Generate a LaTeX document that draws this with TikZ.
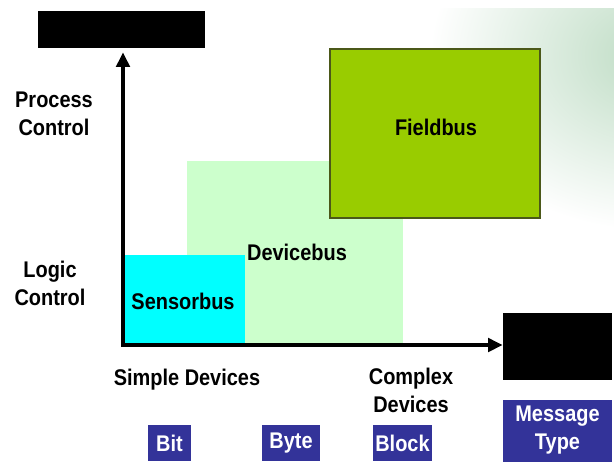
\documentclass[tikz,border=0pt]{standalone}
\usepackage{fontspec}
\setmainfont{Liberation Sans}[FakeStretch=0.88]
\usetikzlibrary{arrows.meta}
\definecolor{glow}{RGB}{190,220,196}
\definecolor{sensorcyan}{HTML}{00FFFF}
\definecolor{devicegreen}{HTML}{CCFFCC}
\definecolor{fieldgreen}{HTML}{99CC00}
\definecolor{fieldedge}{RGB}{75,88,25}
\definecolor{typeblue}{HTML}{333399}
\newcommand{\slidefont}{\bfseries\fontsize{17}{21}\selectfont}
\tikzstyle{axisline}=[line width=3.2pt, line cap=rect, -{Triangle[length=11pt,width=10pt]}]
\tikzstyle{blackbox}=[fill=black, inner sep=0pt]
\tikzstyle{typebox}=[fill=typeblue, text=white, inner sep=0pt, align=center, font=\slidefont]
\tikzstyle{caption}=[align=center, inner sep=0pt, font=\slidefont]

\begin{document}
\begin{tikzpicture}[x=0.75pt, y=-0.75pt]
    \useasboundingbox (0,0) rectangle (614,462);
    % soft glow in the upper right corner
    \begin{scope}
        \clip (0,8) rectangle (614,462);
        \shade[inner color=glow, outer color=white] (650,55) ellipse (220 and 175);
    \end{scope}

    % bus areas
    \fill[devicegreen] (187,161) rectangle (403,344);
    \draw[fieldedge, fill=fieldgreen, line width=0.8pt] (330,49) rectangle (540,218);
    \fill[sensorcyan] (122,255) rectangle (245,344);
    \node[caption] (devicebus) at (297,252) {Devicebus};
    \node[caption] (fieldbus) at (436,127) {Fieldbus};
    \node[caption] (sensorbus) at (183,301) {Sensorbus};

    % axes
    \node[blackbox, minimum width=125.25pt, minimum height=27.75pt] (ybox) at (121.5,29.5) {};
    \node[blackbox, minimum width=81.75pt, minimum height=50.25pt] (xbox) at (557.5,346.5) {};
    \coordinate (origin) at (123,345);
    \draw[axisline] (origin) -- ([yshift=-3pt]ybox.south -| origin);
    \draw[axisline] (origin) -- (origin -| xbox.west);

    \node[caption] (process) at (54,114) {Process\\Control};
    \node[caption] (logic) at (50,283) {Logic\\Control};
    \node[caption] (simple) at (187,380) {Simple Devices};
    \node[caption] (complex) at (411,390) {Complex\\Devices};

    % message types
    \node[typebox, minimum width=32.25pt, minimum height=27pt] (bit) at (169.5,443) {Bit};
    \node[typebox, minimum width=43.5pt, minimum height=27pt] (byte) at (291,443) {Byte};
    \node[typebox, minimum width=44.25pt, minimum height=27pt] (block) at (402.5,443) {Block};
    \node[typebox, minimum width=81.75pt, minimum height=46.5pt] (msgtype) at (557.5,430.5) {Message\\Type};
\end{tikzpicture}
\end{document}
